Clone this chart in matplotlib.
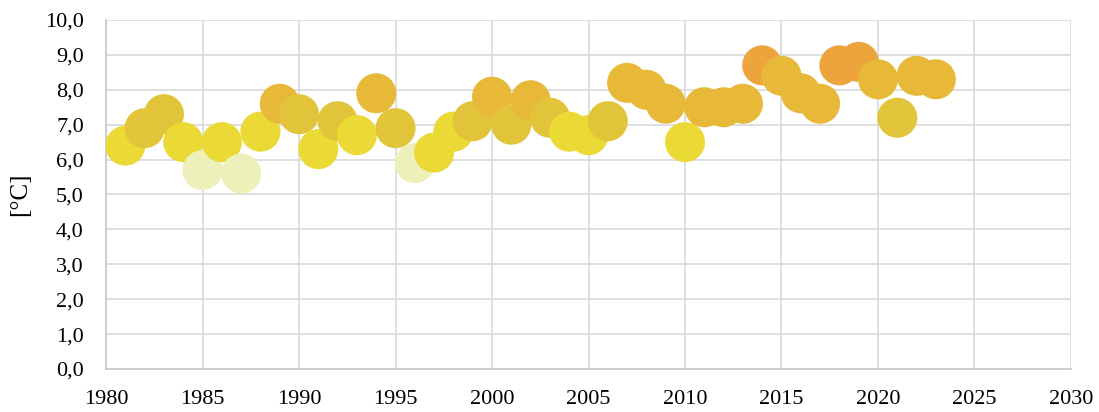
import numpy as np
import matplotlib.pyplot as plt
from matplotlib.ticker import FuncFormatter

# data
years = np.arange(1981, 2024)
temps = [6.4, 6.9, 7.3, 6.5, 5.7, 6.5, 5.6, 6.8, 7.6, 7.3,
         6.3, 7.1, 6.7, 7.9, 6.9, 5.9, 6.2, 6.8, 7.1, 7.8,
         7.0, 7.7, 7.2, 6.8, 6.7, 7.1, 8.2, 8.0, 7.6, 6.5,
         7.5, 7.5, 7.6, 8.7, 8.4, 7.9, 7.6, 8.7, 8.8, 8.3,
         7.2, 8.4, 8.3]

# colour classes by temperature
bin_edges = [6.0, 6.85, 7.45, 8.55]
bin_colors = ['#EEF0B9', '#EBD935', '#E2C43A', '#E8B838', '#EDA43C']
colors = [bin_colors[i] for i in np.digitize(temps, bin_edges)]

plt.rcParams['font.family'] = ['Liberation Serif', 'DejaVu Serif']

fig = plt.figure(figsize=(10.99, 4.12), dpi=100)
ax = fig.add_axes([0.0965, 0.1044, 0.878, 0.8471])

ax.scatter(years, temps, s=830, c=colors, linewidths=0, zorder=3)

ax.set_xlim(1980, 2030)
ax.set_ylim(0, 10)
ax.set_xticks(np.arange(1980, 2031, 5))
ax.set_yticks(np.arange(0, 10.1, 1))
ax.yaxis.set_major_formatter(FuncFormatter(lambda v, p: f'{v:.1f}'.replace('.', ',')))
ax.tick_params(length=0, labelsize=16, colors='#000000')
ax.tick_params(axis='x', pad=15)
ax.tick_params(axis='y', pad=16)
ax.grid(True, color='#D9D9D9', linewidth=1.2, zorder=0)
for s in ax.spines.values():
    s.set_visible(False)
ax.spines['left'].set_visible(True)
ax.spines['bottom'].set_visible(True)
ax.spines['left'].set_color('#C8C8C8')
ax.spines['bottom'].set_color('#C8C8C8')
ax.spines['left'].set_linewidth(1.2)
ax.spines['bottom'].set_linewidth(1.2)
ax.set_ylabel('[°C]', fontsize=18, labelpad=10)

fig.savefig('out.png', dpi=100)
